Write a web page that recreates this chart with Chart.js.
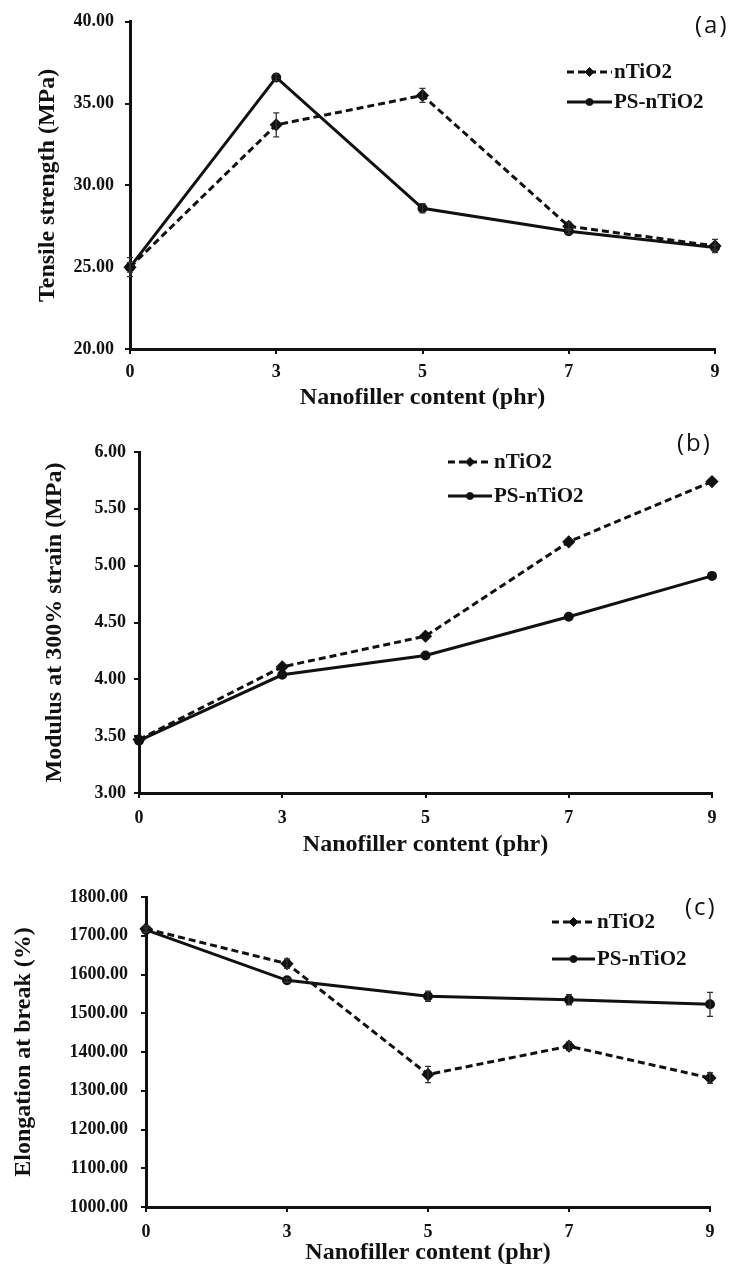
<!DOCTYPE html>
<html>
<head>
<meta charset="utf-8">
<script src="https://cdn.jsdelivr.net/npm/chart.js@4.4.1/dist/chart.umd.min.js"></script>
<style>
body{margin:0;background:#fff;}
#page{position:relative;width:731px;height:1269px;overflow:hidden;background:#fff;}
.box{position:absolute;left:0;width:731px;}
.tag{position:absolute;font-family:'Open Sans';font-size:24px;letter-spacing:2px;line-height:24px;color:#111;}
</style>
</head>
<body>
<div id="page">
	<div class="box" style="top:0;height:415px"><canvas id="chartA"></canvas></div>
	<div class="box" style="top:415px;height:445px"><canvas id="chartB"></canvas></div>
	<div class="box" style="top:860px;height:409px"><canvas id="chartC"></canvas></div>
	<div class="tag" style="left:695px;top:12px">(a)</div>
	<div class="tag" style="left:677px;top:430px">(b)</div>
	<div class="tag" style="left:685px;top:894px">(c)</div>
</div>
<script>
// nanofiller loading (phr), shown as equally spaced categories
const phr = ['0', '3', '5', '7', '9'];

// (a) tensile strength, MPa
const tensileTiO2 = [25.0, 33.7, 35.5, 27.5, 26.3];
const tensilePS = [25.0, 36.6, 28.6, 27.2, 26.2];
const tensileTiO2Err = [0.58, 0.73, 0.43, 0.25, 0.4];
const tensilePSErr = [0.3, 0.2, 0.28, 0.15, 0.15];

// (b) modulus at 300% strain, MPa
const modulusTiO2 = [3.47, 4.11, 4.38, 5.21, 5.74];
const modulusPS = [3.46, 4.04, 4.21, 4.55, 4.91];

// (c) elongation at break, %
const elongTiO2 = [1718, 1628, 1342, 1415, 1333];
const elongPS = [1715, 1585, 1544, 1535, 1523];
const elongTiO2Err = [8, 12, 21, 11, 14];
const elongPSErr = [5, 5, 13, 13, 31];

Chart.defaults.font.family = 'Liberation Serif';
Chart.defaults.color = '#111';

// vertical error bars with small caps
const errorBars = {
	id: 'errorBars',
	afterDatasetsDraw(chart) {
		const ctx = chart.ctx;
		const y = chart.scales.y;
		chart.data.datasets.forEach((ds, i) => {
			if (!ds.errors) return;
			const meta = chart.getDatasetMeta(i);
			ctx.save();
			ctx.strokeStyle = '#333';
			ctx.lineWidth = 1.3;
			meta.data.forEach((pt, j) => {
				const e = ds.errors[j];
				if (!e) return;
				const top = y.getPixelForValue(ds.data[j] + e);
				const bot = y.getPixelForValue(ds.data[j] - e);
				ctx.beginPath();
				ctx.moveTo(pt.x, top); ctx.lineTo(pt.x, bot);
				ctx.moveTo(pt.x - 3, top); ctx.lineTo(pt.x + 3, top);
				ctx.moveTo(pt.x - 3, bot); ctx.lineTo(pt.x + 3, bot);
				ctx.stroke();
			});
			ctx.restore();
		});
	}
};

// legend with a line sample and marker, like the excel one
const lineLegend = {
	id: 'lineLegend',
	afterDraw(chart, args, opts) {
		const ctx = chart.ctx;
		chart.data.datasets.forEach((ds, i) => {
			const y = opts.y + i * opts.gap;
			ctx.save();
			ctx.strokeStyle = ds.borderColor;
			ctx.lineWidth = ds.borderWidth;
			ctx.setLineDash(ds.borderDash || []);
			ctx.beginPath();
			ctx.moveTo(opts.x, y);
			ctx.lineTo(opts.x + opts.len, y);
			ctx.stroke();
			ctx.setLineDash([]);
			ctx.fillStyle = ds.pointBackgroundColor;
			ctx.strokeStyle = ds.pointBorderColor;
			ctx.lineWidth = 1;
			Chart.helpers.drawPoint(ctx, {pointStyle: ds.pointStyle, radius: ds.pointRadius, rotation: 0, borderWidth: 1}, opts.x + opts.len / 2, y);
			ctx.fillStyle = '#111';
			ctx.font = 'bold 21px "Liberation Serif"';
			ctx.textBaseline = 'middle';
			ctx.fillText(ds.label, opts.x + opts.len + 2, y + 1);
			ctx.restore();
		});
	}
};

function makeChart(id, s) {
	const ctx = document.getElementById(id);
	return new Chart(ctx, {
		type: 'line',
		data: {
			labels: phr,
			datasets: [{
				label: 'nTiO2',
				data: s.a,
				errors: s.aErr,
				borderColor: '#111',
				borderWidth: 3,
				borderDash: [7, 4],
				pointStyle: 'rectRot',
				pointRadius: 4.5,
				pointBackgroundColor: '#111',
				pointBorderColor: '#111',
				tension: 0,
				clip: false
			}, {
				label: 'PS-nTiO2',
				data: s.b,
				errors: s.bErr,
				borderColor: '#111',
				borderWidth: 3,
				pointStyle: 'circle',
				pointRadius: 3.5,
				pointBackgroundColor: '#111',
				pointBorderColor: '#111',
				tension: 0,
				clip: false
			}]
		},
		options: {
			responsive: true,
			maintainAspectRatio: false,
			animation: false,
			devicePixelRatio: 1,
			layout: {
				padding: {left: s.padL, right: s.padR, top: s.padT, bottom: 0}
			},
			plugins: {
				legend: {display: false},
				tooltip: {enabled: false},
				lineLegend: s.legend
			},
			scales: {
				x: {
					type: 'category',
					offset: false,
					border: {color: '#111', width: 3},
					grid: {drawOnChartArea: false, color: '#111', lineWidth: 2, tickLength: 5},
					ticks: {padding: s.xPad, maxRotation: 0, font: {size: 18, weight: 'bold'}},
					title: {
						display: true,
						text: 'Nanofiller content (phr)',
						font: {size: 24, weight: 'bold'},
						padding: {top: 0, bottom: s.xTitlePad}
					},
					afterFit: sc => { sc.height = s.xH }
				},
				y: {
					min: s.min,
					max: s.max,
					border: {color: '#111', width: 3},
					grid: {drawOnChartArea: false, color: '#111', lineWidth: 2, tickLength: 5},
					ticks: {
						stepSize: s.step,
						padding: s.yPad,
						font: {size: 18, weight: 'bold'},
						callback: v => v.toFixed(2)
					},
					title: {
						display: true,
						text: s.yTitle,
						font: {size: 24, weight: 'bold'},
						padding: {top: 4, bottom: 0}
					},
					afterFit: sc => { sc.width = s.yW }
				}
			}
		},
		plugins: [errorBars, lineLegend]
	});
}

makeChart('chartA', {
	a: tensileTiO2, b: tensilePS, aErr: tensileTiO2Err, bErr: tensilePSErr,
	min: 20, max: 40, step: 5, yTitle: 'Tensile strength (MPa)',
	padL: 29, yW: 101, padR: 16, padT: 20, xH: 66, xPad: 8, xTitlePad: 3, yPad: 11,
	legend: {x: 567, y: 72, gap: 30, len: 45}
});

makeChart('chartB', {
	a: modulusTiO2, b: modulusPS,
	min: 3, max: 6, step: 0.5, yTitle: 'Modulus at 300% strain (MPa)',
	padL: 36, yW: 103, padR: 19, padT: 37, xH: 67, xPad: 10, xTitlePad: 1, yPad: 8,
	legend: {x: 448, y: 47, gap: 34, len: 44}
});

makeChart('chartC', {
	a: elongTiO2, b: elongPS, aErr: elongTiO2Err, bErr: elongPSErr,
	min: 1000, max: 1800, step: 100, yTitle: 'Elongation at break (%)',
	padL: 5, yW: 141, padR: 21, padT: 37, xH: 62, xPad: 10, xTitlePad: 2, yPad: 13,
	legend: {x: 552, y: 62, gap: 37, len: 43}
});
</script>
</body>
</html>
